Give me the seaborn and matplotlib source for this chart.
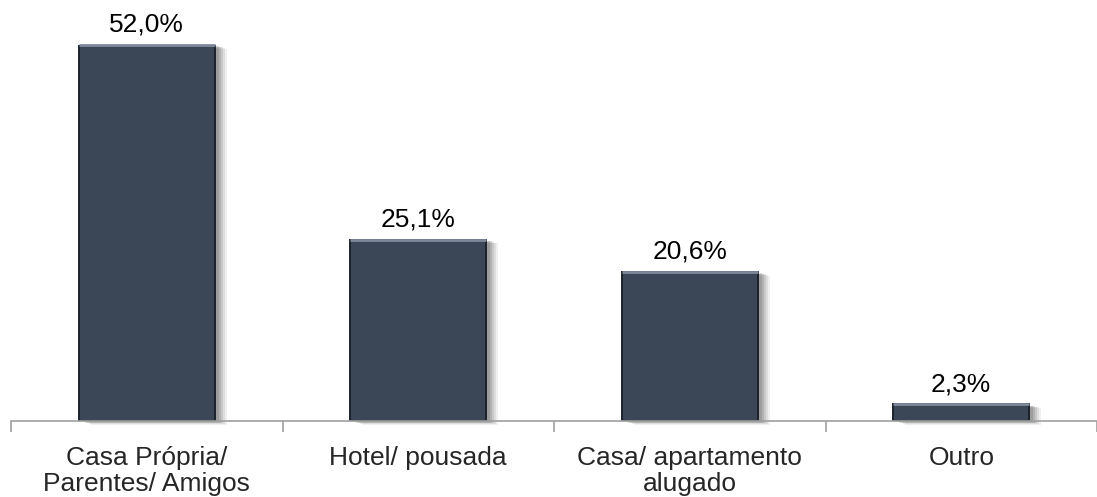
import numpy as np
import pandas as pd
import matplotlib.pyplot as plt
import matplotlib.transforms as mtransforms
import seaborn as sns

# Datos
categorias = ["Casa Própria/\nParentes/ Amigos", "Hotel/ pousada",
              "Casa/ apartamento\nalugado", "Outro"]
valores = [52.0, 25.1, 20.6, 2.3]
etiquetas = ["52,0%", "25,1%", "20,6%", "2,3%"]

df = pd.DataFrame({"categoria": categorias, "valor": valores})

sns.set_style("white")
plt.rcParams['font.family'] = ['Liberation Sans', 'DejaVu Sans']

fig = plt.figure(figsize=(10.97, 4.97), dpi=100)
ax = fig.add_axes([11 / 1097, 76 / 497, 1086 / 1097, 376 / 497])

cor_barra = "#3b4657"
sns.barplot(data=df, x="categoria", y="valor", color=cor_barra, width=0.5,
            saturation=1, edgecolor="#1c222b", linewidth=1.4, ax=ax, zorder=3)

# sombra difusa à direita/abaixo de cada barra
for bar in list(ax.patches):
    x0, w, h = bar.get_x(), bar.get_width(), bar.get_height()
    for dx, a in [(12, 0.08), (10, 0.11), (8, 0.14), (6, 0.17), (4, 0.20)]:
        off = mtransforms.offset_copy(ax.transData, fig=fig, x=dx, y=-dx * 0.3,
                                      units="dots")
        sh = plt.Rectangle((x0, 0), w, h, transform=off, facecolor="#4a4a4a",
                           alpha=a, edgecolor="none", zorder=1, clip_on=False)
        ax.add_patch(sh)
    # brilho no topo (efeito bisel)
    hl = plt.Rectangle((x0, h), w, 0, edgecolor="#7e8a9c", linewidth=2.0,
                       facecolor="none", zorder=4, clip_on=False)
    ax.add_patch(hl)

for i, (v, t) in enumerate(zip(valores, etiquetas)):
    ax.annotate(t, (i, v), xytext=(0, 6), textcoords="offset points",
                ha="center", va="bottom", fontsize=19, color="black",
                annotation_clip=False)

ax.set_ylim(0, 52)
ax.set_xlim(-0.5, 3.5)
ax.set_xlabel("")
ax.set_ylabel("")
ax.set_yticks([])

for s in ["top", "right", "left"]:
    ax.spines[s].set_visible(False)
ax.spines["bottom"].set_color("#a0a0a0")
ax.spines["bottom"].set_linewidth(1.2)
ax.spines["bottom"].set_zorder(5)

ax.tick_params(axis="x", which="major", bottom=False, length=0, pad=18,
               labelsize=19)
for lbl in ax.get_xticklabels():
    lbl.set_linespacing(1.12)
ax.set_xticks([-0.5, 0.5, 1.5, 2.5, 3.5], minor=True)
ax.tick_params(axis="x", which="minor", bottom=True, length=8, width=1.2,
               color="#a0a0a0", direction="out")

fig.savefig("out.png", dpi=100)
